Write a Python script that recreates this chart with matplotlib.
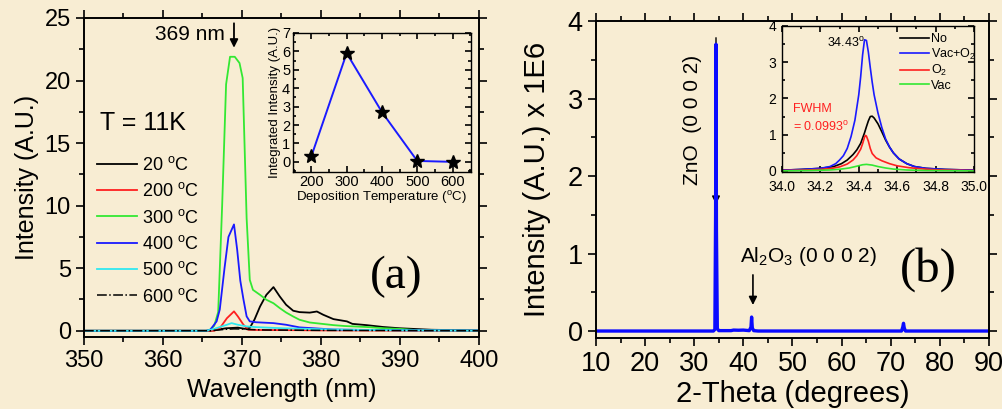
import numpy as np
import matplotlib
matplotlib.use("Agg")
import matplotlib.pyplot as plt
from matplotlib.ticker import MultipleLocator, FormatStrFormatter

plt.rcParams['font.family'] = ['Liberation Sans', 'DejaVu Sans']
plt.rcParams['mathtext.fontset'] = 'custom'
plt.rcParams['mathtext.rm'] = 'Liberation Sans'
plt.rcParams['mathtext.it'] = 'Liberation Sans'
plt.rcParams['mathtext.default'] = 'regular'

BG = '#f8edd3'

# ---- (a) PL spectra at 11K ----
wl_20 = [350, 366, 368, 369.5, 370.4, 371.0, 371.6, 372.3, 373.1, 374.0, 374.8, 375.6, 376.5,
         377.3, 378.6, 379.5, 380.3, 381.6, 383.3, 384.0, 385.8, 387.9, 390.0, 394.0, 400]
I_20 = [0, 0, 0.2, 0.25, 0.15, 0.23, 0.9, 1.94, 2.87, 3.49, 2.74, 2.08, 1.6,
        1.49, 1.45, 1.54, 1.28, 0.93, 0.75, 0.55, 0.45, 0.3, 0.2, 0.08, 0.02]

wl_200 = [350, 366.5, 367.2, 368.1, 369.0, 369.5, 370.2, 370.8, 372, 376, 380, 400]
I_200 = [0, 0, 0.2, 1.0, 1.55, 1.14, 0.48, 0.08, 0.06, 0.05, 0.03, 0]

wl_300 = [350, 365.5, 366.0, 366.5, 367.0, 367.5, 368.0, 368.5, 369.1, 369.7, 370.1, 370.6,
          371.0, 371.4, 372.3, 373.1, 374.0, 374.8, 375.6, 376.5, 377.3, 378.6, 381.6,
          383.0, 385.8, 388.0, 390.0, 392.1, 400]
I_300 = [0, 0, 0.1, 0.4, 1.5, 10.0, 19.7, 21.9, 21.9, 21.4, 20.2, 9.0,
         4.07, 3.27, 2.87, 2.48, 2.2, 1.81, 1.46, 1.14, 0.88, 0.66, 0.45,
         0.38, 0.3, 0.2, 0.15, 0.05, 0.02]

wl_400 = [350, 365.5, 366.0, 366.8, 367.2, 367.8, 368.3, 369.0, 369.4, 369.8, 370.2, 370.6,
          371.0, 371.8, 374.0, 375.6, 377.3, 381.6, 385, 390, 400]
I_400 = [0, 0, 0.08, 0.75, 1.7, 5.0, 7.5, 8.5, 6.5, 4.0, 2.5, 1.15,
         0.75, 0.68, 0.61, 0.48, 0.27, 0.1, 0.07, 0.04, 0.02]

wl_500 = [350, 365.5, 366.4, 368.1, 368.7, 369.5, 370.6, 371.8, 375.2, 381.6, 390, 400]
I_500 = [0, 0, 0.13, 0.48, 0.61, 0.48, 0.35, 0.29, 0.2, 0.1, 0.04, 0.01]

wl_600 = [350, 366, 368, 369, 370, 371, 373, 380, 400]
I_600 = [0, 0, 0.12, 0.15, 0.14, 0.1, 0.06, 0.03, 0]

dep_temp = [200, 300, 400, 500, 600]
integ_int = [0.3, 5.9, 2.7, 0.05, 0.0]

# ---- (b) XRD ----
theta = [10, 33.9, 34.2, 34.35, 34.43, 34.52, 34.7, 35.0, 37.5, 38.0, 39.0, 40.0,
         41.2, 41.55, 41.68, 41.82, 42.1, 43.0, 72.2, 72.45, 72.6, 72.75, 73.0, 90]
xrd = [0, 0, 0.02, 1.5, 3.7, 1.3, 0.03, 0.005, 0.005, 0.012, 0.01, 0.012,
       0.005, 0.05, 0.18, 0.04, 0.005, 0, 0, 0.05, 0.1, 0.04, 0, 0]

# inset (b): (0 0 0 2) peak for the four anneal conditions
th_no = [34.00, 34.10, 34.20, 34.27, 34.31, 34.34, 34.37, 34.39, 34.41, 34.43, 34.44, 34.45,
         34.46, 34.47, 34.48, 34.50, 34.52, 34.54, 34.56, 34.58, 34.61, 34.65, 34.69, 34.75,
         34.85, 35.00]
I_no = [0.02, 0.04, 0.07, 0.12, 0.2, 0.3, 0.45, 0.58, 0.76, 1.05, 1.22, 1.38,
        1.5, 1.51, 1.46, 1.3, 1.08, 0.85, 0.66, 0.5, 0.33, 0.2, 0.12, 0.07,
        0.04, 0.02]

th_vo = [34.00, 34.10, 34.20, 34.25, 34.28, 34.30, 34.32, 34.34, 34.36, 34.38, 34.40, 34.41,
         34.42, 34.43, 34.44, 34.45, 34.46, 34.47, 34.48, 34.50, 34.52, 34.54, 34.56, 34.58,
         34.61, 34.65, 34.69, 34.75, 34.85, 35.00]
I_vo = [0.02, 0.04, 0.07, 0.12, 0.2, 0.3, 0.42, 0.62, 0.95, 1.4, 2.1, 2.6,
        3.2, 3.62, 3.6, 3.28, 2.85, 2.45, 2.1, 1.6, 1.2, 0.88, 0.66, 0.5,
        0.33, 0.2, 0.12, 0.07, 0.04, 0.02]

th_o2 = [34.00, 34.10, 34.20, 34.26, 34.30, 34.34, 34.37, 34.39, 34.41, 34.42, 34.43, 34.435,
         34.44, 34.45, 34.46, 34.47, 34.49, 34.52, 34.56, 34.60, 34.66, 34.72, 34.80, 35.00]
I_o2 = [0.01, 0.02, 0.04, 0.07, 0.11, 0.19, 0.3, 0.42, 0.6, 0.75, 0.93, 0.98,
        0.96, 0.82, 0.62, 0.48, 0.36, 0.28, 0.2, 0.14, 0.09, 0.06, 0.03, 0.01]

th_vac = [34.00, 34.15, 34.25, 34.30, 34.35, 34.39, 34.42, 34.44, 34.47, 34.50, 34.54, 34.58,
          34.65, 34.75, 35.00]
I_vac = [0.0, 0.01, 0.025, 0.045, 0.08, 0.13, 0.17, 0.18, 0.16, 0.12, 0.08, 0.05,
         0.025, 0.01, 0.0]


def style_axis(ax, direction, length=6):
    ax.tick_params(which='both', direction=direction, top=True, right=True, width=1.2)
    ax.tick_params(which='major', length=length)
    ax.tick_params(which='minor', length=length * 0.55)
    for s in ax.spines.values():
        s.set_linewidth(1.4)


fig = plt.figure(figsize=(10.02, 4.09), dpi=100, facecolor=BG)

# ---------- panel (a) ----------
ax1 = fig.add_axes([0.0838, 0.176, 0.394, 0.780], facecolor='none')
ax1.plot(wl_20, I_20, color='black', lw=1.3, label='20 $^{o}$C')
ax1.plot(wl_200, I_200, color='#ff2020', lw=1.3, label='200 $^{o}$C')
ax1.plot(wl_300, I_300, color='#33e833', lw=1.3, label='300 $^{o}$C')
ax1.plot(wl_400, I_400, color='#1a1aff', lw=1.3, label='400 $^{o}$C')
ax1.plot(wl_500, I_500, color='#30e8f0', lw=1.3, label='500 $^{o}$C')
ax1.plot(wl_600, I_600, color='black', lw=1.1, ls='-.', label='600 $^{o}$C')
ax1.set_xlim(350, 400)
ax1.set_ylim(-0.5, 25)
ax1.xaxis.set_major_locator(MultipleLocator(10))
ax1.xaxis.set_minor_locator(MultipleLocator(5))
ax1.yaxis.set_major_locator(MultipleLocator(5))
ax1.yaxis.set_minor_locator(MultipleLocator(2.5))
style_axis(ax1, 'out')
ax1.tick_params(labelsize=17)
ax1.set_xlabel('Wavelength (nm)', fontsize=18, labelpad=4)
ax1.set_ylabel('Intensity (A.U.)', fontsize=18, labelpad=4)
ax1.legend(loc='upper left', bbox_to_anchor=(0.015, 0.59), frameon=False, fontsize=13,
           handlelength=2.2, handletextpad=0.3, labelspacing=0.46, borderaxespad=0)
ax1.text(352, 16.6, 'T = 11K', fontsize=18, va='center')
ax1.annotate('', xy=(369, 22.4), xytext=(369, 24.8),
             arrowprops=dict(arrowstyle='-|>', color='black', lw=1.3, mutation_scale=12))
ax1.text(367.8, 23.7, '369 nm', fontsize=15, ha='right', va='center')
ax1.text(389.6, 4.3, '(a)', fontsize=34, family='Liberation Serif', ha='center', va='center')

# inset (a)
ax1i = fig.add_axes([0.2924, 0.5795, 0.1776, 0.340], facecolor='none')
ax1i.plot(dep_temp, integ_int, color='#1a1aff', lw=1.4)
ax1i.plot(dep_temp, integ_int, ls='none', marker='*', color='black', ms=10)
ax1i.set_xlim(148, 652)
ax1i.set_ylim(-0.55, 7)
ax1i.xaxis.set_major_locator(MultipleLocator(100))
ax1i.xaxis.set_minor_locator(MultipleLocator(50))
ax1i.yaxis.set_major_locator(MultipleLocator(1))
ax1i.yaxis.set_minor_locator(MultipleLocator(0.5))
style_axis(ax1i, 'in', length=4)
for s in ax1i.spines.values():
    s.set_linewidth(1.0)
ax1i.tick_params(labelsize=10.5, pad=2)
ax1i.set_xlabel('Deposition Temperature ($^{o}$C)', fontsize=9.5, labelpad=0)
ax1i.set_ylabel('Integrated Intensity (A.U.)', fontsize=9.5, labelpad=1)

# ---------- panel (b) ----------
ax2 = fig.add_axes([0.5948, 0.1736, 0.3922, 0.775], facecolor='none')
ax2.annotate('', xy=(34.43, 1.6), xytext=(34.43, 3.82),
             arrowprops=dict(arrowstyle='-|>', color='black', lw=1.0, mutation_scale=12), zorder=1)
ax2.plot(theta, xrd, color='#0a0aff', lw=2.4, zorder=2)
ax2.annotate('', xy=(41.95, 0.3), xytext=(41.95, 0.76),
             arrowprops=dict(arrowstyle='-|>', color='black', lw=1.2, mutation_scale=12))
ax2.set_xlim(10, 90)
ax2.set_ylim(-0.09, 4.0)
ax2.xaxis.set_major_locator(MultipleLocator(10))
ax2.xaxis.set_minor_locator(MultipleLocator(5))
ax2.yaxis.set_major_locator(MultipleLocator(1))
ax2.yaxis.set_minor_locator(MultipleLocator(0.5))
style_axis(ax2, 'out')
ax2.tick_params(labelsize=19.5)
ax2.set_xlabel('2-Theta (degrees)', fontsize=21, labelpad=2)
ax2.set_ylabel('Intensity (A.U.) x 1E6', fontsize=21, labelpad=12)
ax2.text(29.7, 2.72, 'ZnO  (0 0 0 2)', rotation=90, fontsize=15, ha='center', va='center')
ax2.text(39.3, 0.96, 'Al$_2$O$_3$ (0 0 0 2)', fontsize=15, ha='left', va='center')
ax2.text(77.6, 0.79, '(b)', fontsize=35, family='Liberation Serif', ha='center', va='center')

# inset (b)
ax2i = fig.add_axes([0.7804, 0.5795, 0.1916, 0.357], facecolor='none')
ax2i.plot(th_no, I_no, color='black', lw=1.2, label='No')
ax2i.plot(th_vo, I_vo, color='#1a1aff', lw=1.2, label='Vac+O$_2$')
ax2i.plot(th_o2, I_o2, color='#ff2020', lw=1.2, label='O$_2$')
ax2i.plot(th_vac, I_vac, color='#33e833', lw=1.2, label='Vac')
ax2i.set_xlim(34.0, 35.0)
ax2i.set_ylim(-0.03, 4.0)
ax2i.xaxis.set_major_locator(MultipleLocator(0.2))
ax2i.xaxis.set_minor_locator(MultipleLocator(0.1))
ax2i.yaxis.set_major_locator(MultipleLocator(1))
ax2i.yaxis.set_minor_locator(MultipleLocator(0.5))
style_axis(ax2i, 'in', length=4)
for s in ax2i.spines.values():
    s.set_linewidth(1.0)
ax2i.tick_params(labelsize=10)
ax2i.tick_params(axis='x', pad=6)
ax2i.tick_params(axis='y', pad=4)
ax2i.xaxis.set_major_formatter(FormatStrFormatter('%.1f'))
ax2i.legend(loc='upper left', bbox_to_anchor=(0.59, 0.985), frameon=False, fontsize=9,
            handlelength=2.3, handletextpad=0.15, labelspacing=0.12, borderaxespad=0)
ax2i.text(34.234, 3.54, '34.43$^{o}$', fontsize=9, va='center')
ax2i.text(34.057, 1.71, 'FWHM', fontsize=9, color='#ff2020', va='center')
ax2i.text(34.057, 1.22, '= 0.0993$^{o}$', fontsize=9, color='#ff2020', va='center')

fig.savefig('out.png', dpi=100, facecolor=BG)
